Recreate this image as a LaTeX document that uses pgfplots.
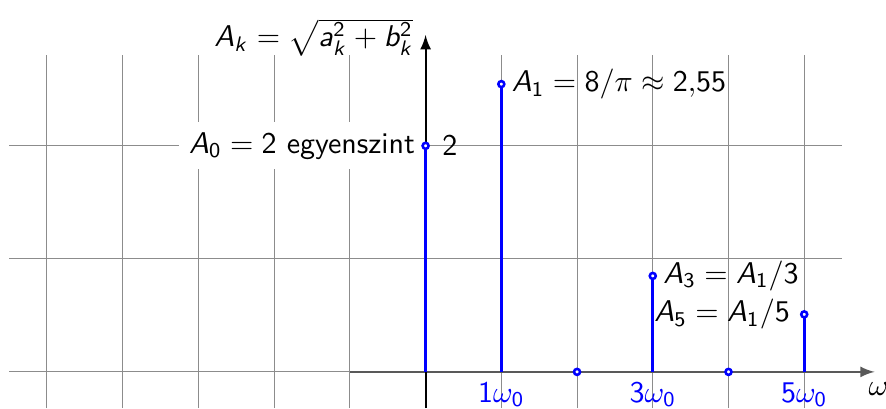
\documentclass[border=0pt]{standalone}
\usepackage{graphicx}
\usepackage{pgfplots}
\pgfplotsset{compat=1.18}
% sans-serif math: Latin letters in slanted sans, digits and operators in sans,
% Greek letters kept from the standard math italic
\makeatletter
\DeclareSymbolFont{sfit}{OT1}{cmss}{m}{sl}
\SetSymbolFont{operators}{normal}{OT1}{cmss}{m}{n}
\count@=`A
\loop
  \mathcode\count@=\numexpr "7000+\symsfit*"100+\count@\relax
  \mathcode\numexpr\count@+32\relax=\numexpr "7000+\symsfit*"100+\count@+32\relax
  \advance\count@ by 1
\ifnum\count@<`[ \repeat
\makeatother
\begin{document}
\sffamily
\scalebox{1.5}{%
\begin{tikzpicture}[>=latex]
\begin{axis}[
  x=25.233pt, y=37.667pt,
  xmin=-5.62, xmax=6.08, ymin=-0.32, ymax=3.29,
  hide axis, clip=false,
]
% grid
\pgfplotsinvokeforeach{-5,...,5}{
  \draw[black!45, line width=0.35pt] (axis cs:#1,-0.32) -- (axis cs:#1,2.8);
}
\pgfplotsinvokeforeach{0,1,2}{
  \draw[black!45, line width=0.35pt] (axis cs:-5.5,#1) -- (axis cs:5.5,#1);
}
\node[anchor=east, fill=white] at (axis cs:0,2) {$A_0=2$ egyenszint};
% axes
\draw[->, black!65, line width=0.65pt] (axis cs:-1,0) -- (axis cs:5.93,0);
\draw[->, black, line width=0.65pt] (axis cs:0,-0.32) -- (axis cs:0,2.98);
% amplitude spectrum
\addplot[ycomb, blue, line width=1pt, mark=*,
  mark options={fill=white, line width=0.85pt, solid}, mark size=1pt]
  coordinates {(0,2) (1,2.546) (2,0) (3,0.849) (4,0) (5,0.509)};
% labels
\node[anchor=base east] at (axis cs:-0.02,2.875) {$A_k=\sqrt{a_k^2+b_k^2}$};
\node[anchor=west] at (axis cs:0.08,2) {$2$};
\node[anchor=west] at (axis cs:1,2.546) {$A_1=8/\pi\approx 2{,}55$};
\node[anchor=west] at (axis cs:3,0.849) {$A_3=A_1/3$};
\node[anchor=east] at (axis cs:4.95,0.509) {$A_5=A_1/5$};
\node[anchor=north, blue] at (axis cs:1,0) {$1\omega_0$};
\node[anchor=north, blue] at (axis cs:3,0) {$3\omega_0$};
\node[anchor=north, blue] at (axis cs:5,0) {$5\omega_0$};
\node[anchor=north] at (axis cs:5.98,0) {$\omega$};
\coordinate (bl) at (axis cs:-5.62,-0.32);
\coordinate (tr) at (axis cs:6.08,3.29);
\end{axis}
\pgfresetboundingbox
\path[use as bounding box] (bl) rectangle (tr);
\end{tikzpicture}}
\end{document}
